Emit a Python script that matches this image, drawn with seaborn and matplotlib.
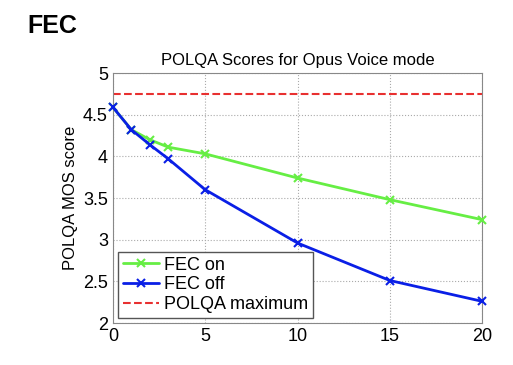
import matplotlib
matplotlib.use('AGG')
import matplotlib.pyplot as plt
import seaborn as sns
import pandas as pd

# packet loss (%) and POLQA MOS scores
loss = [0, 1, 2, 3, 5, 10, 15, 20]
fec_on = [4.59, 4.32, 4.20, 4.11, 4.03, 3.74, 3.48, 3.24]
fec_off = [4.59, 4.32, 4.14, 3.97, 3.60, 2.96, 2.51, 2.26]
polqa_max = 4.75

sns.set_style('white')
plt.rcParams['font.family'] = ['Liberation Sans', 'DejaVu Sans']
plt.rcParams['text.color'] = 'black'
plt.rcParams['axes.labelcolor'] = 'black'
plt.rcParams['xtick.color'] = 'black'
plt.rcParams['ytick.color'] = 'black'

fig = plt.figure(figsize=(5.13, 3.65), dpi=100)
ax = fig.add_axes([0.22, 0.115, 0.72, 0.685])

green = '#66ee44'
blue = '#0a1fe6'
df = pd.DataFrame({'loss': loss, 'FEC on': fec_on, 'FEC off': fec_off})
sns.lineplot(data=df, x='loss', y='FEC on', ax=ax, color=green, marker='x',
             markersize=6, markeredgewidth=1.5, markeredgecolor=green,
             linewidth=2, label='FEC on', clip_on=False, zorder=3)
sns.lineplot(data=df, x='loss', y='FEC off', ax=ax, color=blue, marker='x',
             markersize=6, markeredgewidth=1.5, markeredgecolor=blue,
             linewidth=2, label='FEC off', clip_on=False, zorder=4)
ax.axhline(polqa_max, color='#e83030', linestyle='--', linewidth=1.5, label='POLQA maximum')

ax.set_xlim(0, 20)
ax.set_ylim(2, 5)
ax.set_xticks([0, 5, 10, 15, 20])
ax.set_yticks([2, 2.5, 3, 3.5, 4, 4.5, 5])
ax.set_yticklabels(['2', '2.5', '3', '3.5', '4', '4.5', '5'])
ax.tick_params(labelsize=13, length=3, direction='in', color='#888888')
ax.grid(True, linestyle=':', color='#aaaaaa', linewidth=0.8)
for s in ax.spines.values():
    s.set_color('#888888')
    s.set_linewidth(0.8)

ax.set_xlabel('')
ax.set_ylabel('POLQA MOS score', fontsize=12)
ax.set_title('POLQA Scores for Opus Voice mode', fontsize=12, pad=6)

leg = ax.legend(loc='lower left', fontsize=13, fancybox=False, framealpha=1,
                edgecolor='#555555', handlelength=2, handletextpad=0.3,
                borderpad=0.25, labelspacing=0.15, borderaxespad=0.3)
leg.set_zorder(5)

fig.text(0.053, 0.91, 'FEC', fontsize=18, fontweight='bold')

fig.savefig('out.png', dpi=100)
